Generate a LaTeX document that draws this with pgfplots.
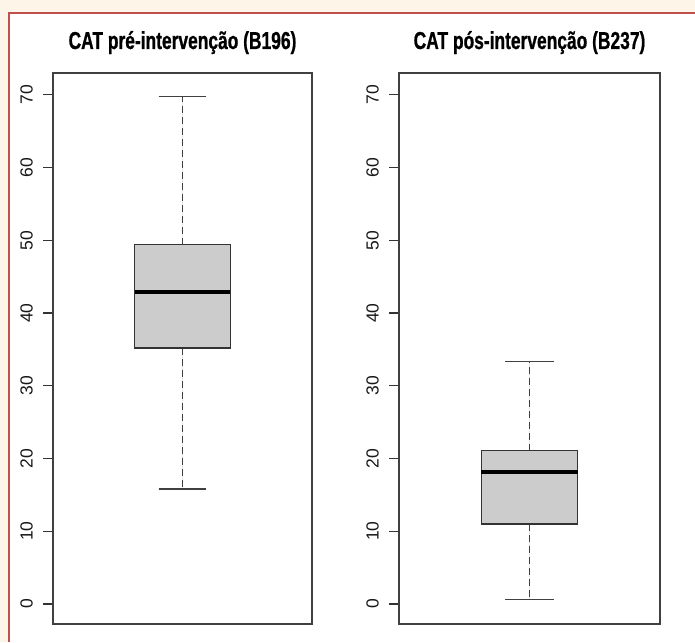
\documentclass[border=0pt]{standalone}
\usepackage{pgfplots}
\pgfplotsset{compat=1.18}
\usepgfplotslibrary{statistics}
\usepackage{fontspec}
\setmainfont{Liberation Sans}
\newfontfamily\titlefam[FakeStretch=0.71, FakeBold=0.8]{Liberation Sans Bold}
\definecolor{cream}{RGB}{253,245,232}
\definecolor{redline}{RGB}{192,80,77}
\definecolor{boxfill}{RGB}{204,204,204}
\pgfplotsset{
  rbox/.style={
    scale only axis, height=551pt,
    xmin=0.46, xmax=1.54, ymin=-2.75, ymax=73,
    boxplot/draw direction=y,
    xtick=\empty, ytick={0,10,...,70}, ytick pos=left,
    tick align=outside, major tick length=10pt,
    axis line style={black!75, line width=1.2pt},
    every tick/.style={black!80, line width=1.1pt},
    yticklabel style={rotate=90, anchor=south, inner sep=0pt,
      font=\fontsize{17.5}{20}\selectfont, text=black!90},
    yticklabel shift=10pt,
    /pgf/number format/assume math mode=true,
    title style={at={(0.5,1)}, anchor=base, yshift=18pt,
      font=\titlefam\fontsize{24.5}{28}\selectfont},
    boxplot/draw/lower whisker/.code={%
      \draw[black!75, line width=1.3pt, dash pattern=on 7pt off 4pt]
        (boxplot cs:\pgfplotsboxplotvalue{lower quartile}) --
        (boxplot cs:\pgfplotsboxplotvalue{lower whisker});
      \draw[black!75, line width=1.4pt]
        (boxplot whisker cs:\pgfplotsboxplotvalue{lower whisker},0) --
        (boxplot whisker cs:\pgfplotsboxplotvalue{lower whisker},1);
    },
    boxplot/draw/upper whisker/.code={%
      \draw[black!75, line width=1.3pt, dash pattern=on 7pt off 4pt]
        (boxplot cs:\pgfplotsboxplotvalue{upper quartile}) --
        (boxplot cs:\pgfplotsboxplotvalue{upper whisker});
      \draw[black!75, line width=1.4pt]
        (boxplot whisker cs:\pgfplotsboxplotvalue{upper whisker},0) --
        (boxplot whisker cs:\pgfplotsboxplotvalue{upper whisker},1);
    },
    boxplot/every median/.style={black, line width=4pt},
  }
}
\begin{document}
\begin{tikzpicture}
\useasboundingbox (0pt,0pt) rectangle (695pt,642pt);
\fill[cream] (0pt,0pt) rectangle (695pt,642pt);
\fill[white] (9pt,0pt) rectangle (695pt,629pt);
\draw[redline, line width=1.5pt] (9pt,0pt) -- (9pt,629pt) -- (695pt,629pt);

\begin{axis}[rbox, at={(53pt,18pt)}, anchor=south west, width=259pt,
  title={CAT pré-intervenção (B196)}]
\addplot[boxplot prepared={median=42.9, upper quartile=49.4, lower quartile=35.2,
  upper whisker=69.8, lower whisker=15.8, draw position=1,
  box extend=0.4, whisker extend=0.2},
  fill=boxfill, draw=black!80, line width=1.2pt] coordinates {};
\end{axis}

\begin{axis}[rbox, at={(399pt,18pt)}, anchor=south west, width=261pt,
  title={CAT pós-intervenção (B237)}]
\addplot[boxplot prepared={median=18.1, upper quartile=21.1, lower quartile=11.0,
  upper whisker=33.3, lower whisker=0.65, draw position=1,
  box extend=0.4, whisker extend=0.2},
  fill=boxfill, draw=black!80, line width=1.2pt] coordinates {};
\end{axis}
\end{tikzpicture}
\end{document}
